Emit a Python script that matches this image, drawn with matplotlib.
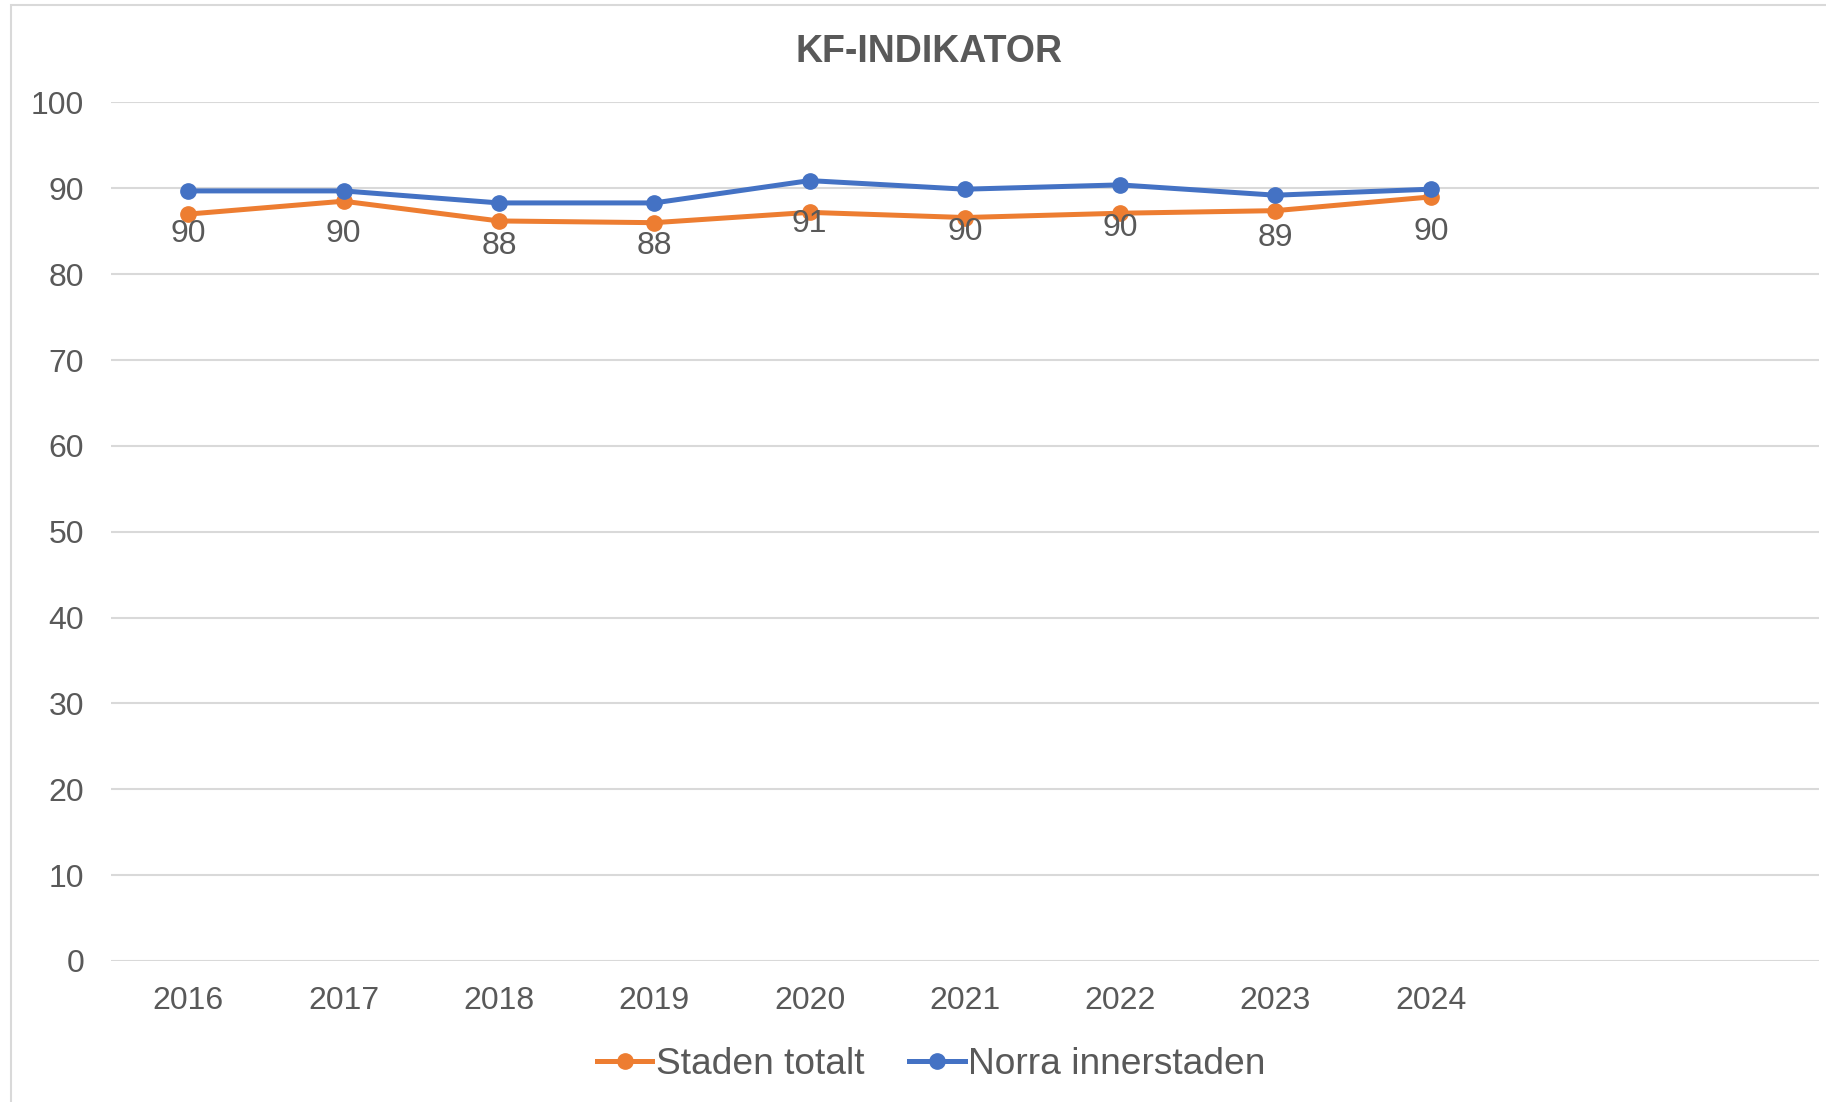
import matplotlib.pyplot as plt
from matplotlib.patches import Rectangle

plt.rcParams['font.family'] = ['Liberation Sans', 'DejaVu Sans']

# Data
years = ['2016', '2017', '2018', '2019', '2020', '2021', '2022', '2023', '2024', '', '']
staden_totalt = [87.0, 88.5, 86.2, 86.0, 87.2, 86.6, 87.1, 87.4, 89.0]
norra_innerstaden = [89.7, 89.7, 88.3, 88.3, 90.9, 89.9, 90.4, 89.2, 89.9]
y_ticks = [0, 10, 20, 30, 40, 50, 60, 70, 80, 90, 100]

orange = '#ED7D31'
blue = '#4472C4'
text_col = '#595959'
grid_col = '#D9D9D9'

fig = plt.figure(figsize=(18.26, 11.02), dpi=100)
ax = fig.add_axes([0.0606, 0.128, 0.9356, 0.779])

x = list(range(len(staden_totalt)))
ax.plot(x, staden_totalt, color=orange, lw=3.6, marker='o', ms=11,
        label='Staden totalt', zorder=3)
ax.plot(x, norra_innerstaden, color=blue, lw=3.6, marker='o', ms=11,
        label='Norra innerstaden', zorder=4)

# datalabels for Norra innerstaden, placed below
for xi, v in zip(x, norra_innerstaden):
    ax.annotate(f'{v:.0f}', (xi, v), xytext=(0, -31), textcoords='offset points',
                ha='center', va='center', fontsize=23, color=text_col, zorder=5)

ax.set_xlim(-0.5, len(years) - 0.5)
ax.set_ylim(0, 100)
ax.set_xticks(range(len(years)))
ax.set_xticklabels(years)
ax.set_yticks(y_ticks)
ax.yaxis.grid(True, color=grid_col, lw=1.5)
ax.set_axisbelow(True)
for s in ['top', 'right', 'left', 'bottom']:
    ax.spines[s].set_visible(False)
ax.tick_params(axis='both', length=0, labelsize=23, labelcolor=text_col)
ax.tick_params(axis='y', pad=19)
ax.tick_params(axis='x', pad=18)

fig.text(0.509, 0.953, 'KF-INDIKATOR', ha='center', va='center', fontsize=27,
         fontweight='bold', color=text_col)

leg = fig.legend(loc='center', bbox_to_anchor=(0.51, 0.034), ncol=2, frameon=False,
                 fontsize=26.7, handlelength=1.5, handletextpad=0.1, columnspacing=1.2,
                 labelcolor=text_col)

# chart border
fig.patches.append(Rectangle((11 / 1826, -0.01), 1.1, 1 - 5 / 1102 + 0.01,
                             transform=fig.transFigure, fill=False,
                             edgecolor='#D9D9D9', lw=1.5))

fig.savefig('out.png', dpi=100)
